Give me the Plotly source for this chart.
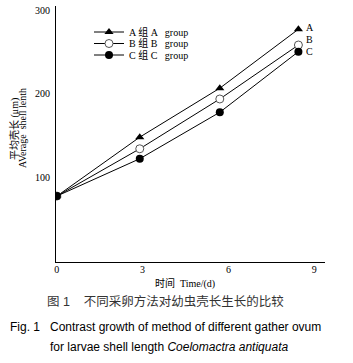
import plotly.graph_objects as go

days = [0, 2.9, 5.7, 8.45]
group_a = [77, 148, 207, 278]
group_b = [77, 134, 194, 259]
group_c = [77, 122, 178, 251]
names = ["A 组 A   group", "B 组 B   group", "C 组 C   group"]
end_labels = ["A", "B", "C"]
label_shift = [2, 6, 0]
x_ticks = [0, 3, 6, 9]
y_ticks = [100, 200, 300]

W, H = 353, 363
L, R, T, B = 56, 28, 6, 101
pw, ph = W - L - R, H - T - B

def px(x):
    return (x - L) / pw

def py(y):
    return 1 - (y - T) / ph

serif = "Liberation Serif, Noto Sans CJK SC"
fig = go.Figure()
series = [group_a, group_b, group_c]
styles = [
    dict(symbol="triangle-up", color="black", size=8, line=dict(color="black", width=0)),
    dict(symbol="circle", color="white", size=8, line=dict(color="#555", width=1)),
    dict(symbol="circle", color="black", size=8, line=dict(color="black", width=0)),
]
legend_ids = ["legend", "legend2", "legend3"]
legend_rows = [32, 43.5, 55]
for vals, nm, st, lid in zip(series, names, styles, legend_ids):
    fig.add_trace(go.Scatter(x=days, y=vals, name=nm, mode="lines+markers",
                             line=dict(color="black", width=1), marker=st, legend=lid))

legend_layout = {}
for lid, row in zip(legend_ids, legend_rows):
    legend_layout[lid] = dict(x=px(89), y=py(row), xanchor="left", yanchor="middle",
                              font=dict(family=serif, size=10, color="black"),
                              bgcolor="rgba(0,0,0,0)", itemwidth=30,
                              borderwidth=0)

for vals, lab, sh in zip(series, end_labels, label_shift):
    fig.add_annotation(x=days[-1], y=vals[-1], text=lab, showarrow=False,
                       xanchor="left", yanchor="middle", xshift=6, yshift=sh,
                       font=dict(family="Liberation Serif", size=10, color="black"))

fig.update_layout(
    width=W, height=H,
    margin=dict(l=L, r=R, t=T, b=B),
    paper_bgcolor="white", plot_bgcolor="white",
    showlegend=True,
    font=dict(family=serif, size=10, color="black"),
    **legend_layout,
)
fig.update_xaxes(range=[-0.03, 9.38], tickvals=x_ticks, showgrid=False, zeroline=False,
                 showline=True, linecolor="black", linewidth=1, ticks="",
                 ticklabelstandoff=-2, tickfont=dict(family="Liberation Serif", size=10))
fig.update_yaxes(range=[-2.4, 306], tickvals=y_ticks, showgrid=False, zeroline=False,
                 showline=True, linecolor="black", linewidth=1, ticks="",
                 ticklabelstandoff=3, tickfont=dict(family="Liberation Serif", size=10))

def text_at(x, y, s, size, family, color="black", anchor="center", angle=0):
    fig.add_annotation(xref="paper", yref="paper", x=px(x), y=py(y), text=s,
                       xanchor=anchor, yanchor="middle", showarrow=False, textangle=angle,
                       font=dict(family=family, size=size, color=color))

text_at(14, 129, "平均壳长 (μm)", 10, serif, angle=-90)
text_at(22, 128, "AVerage  shell lenth", 10, serif, angle=-90)
text_at(185, 283, "时间  Time/(d)", 10, serif)

cap = "Liberation Sans, Noto Sans CJK SC"
text_at(45, 301, "图 1&nbsp;&nbsp;&nbsp;&nbsp;不同采卵方法对幼虫壳长生长的比较", 12.5, cap, "#333", "left")
text_at(8, 327, "Fig. 1", 12, cap, "black", "left")
text_at(48, 327, "Contrast growth of method of different gather ovum", 12, cap, "black", "left")
text_at(48, 347, "for larvae shell length <i>Coelomactra antiquata</i>", 12, cap, "black", "left")

fig.write_html("out.html")
